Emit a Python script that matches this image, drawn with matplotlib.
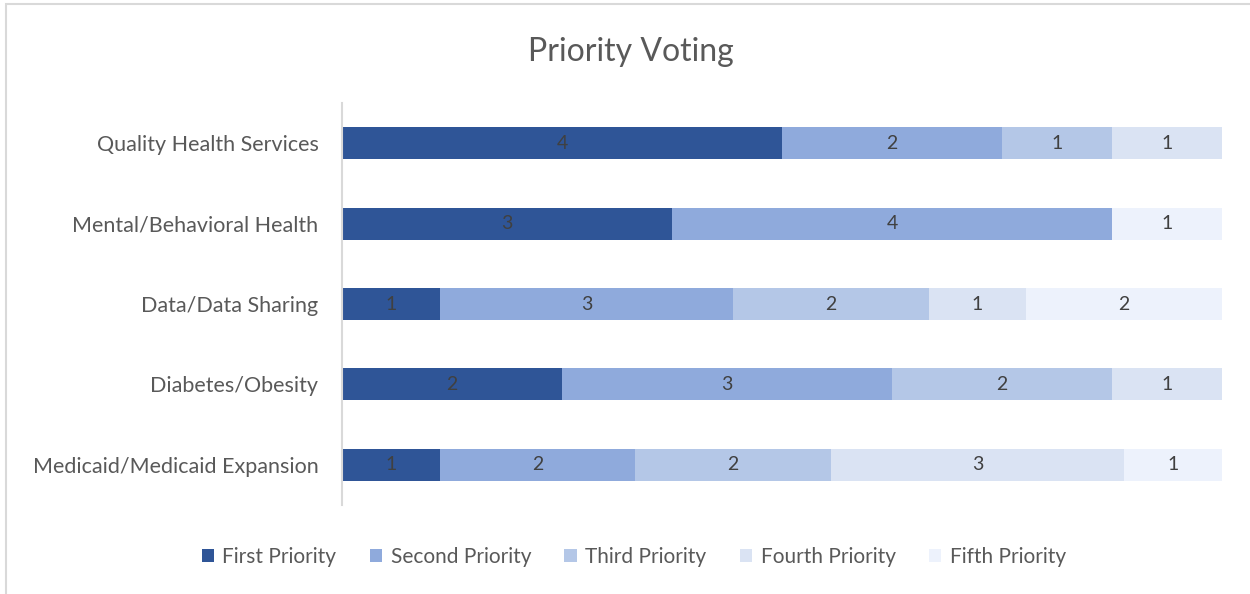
import matplotlib.pyplot as plt
from matplotlib.patches import Rectangle
import numpy as np

plt.rcParams['font.family'] = ['Lato', 'DejaVu Sans']

# Votos por tema y nivel de prioridad
temas = ['Quality Health Services', 'Mental/Behavioral Health', 'Data/Data Sharing',
         'Diabetes/Obesity', 'Medicaid/Medicaid Expansion']
prioridades = ['First Priority', 'Second Priority', 'Third Priority',
               'Fourth Priority', 'Fifth Priority']
primera = [4, 3, 1, 2, 1]
segunda = [2, 4, 3, 3, 2]
tercera = [1, 0, 2, 2, 2]
cuarta = [1, 0, 1, 1, 3]
quinta = [0, 1, 2, 0, 1]

colores = ['#2F5597', '#8FAADC', '#B4C7E7', '#DAE3F3', '#EDF2FC']
texto = '#595959'

votos = np.array([primera, segunda, tercera, cuarta, quinta], dtype=float)
totales = votos.sum(axis=0)
porc = votos / totales * 100

fig = plt.figure(figsize=(12.5, 5.94), dpi=100)
ax = fig.add_axes([0.2736, 0.1498, 0.704, 0.6768])

y = np.arange(len(temas))
izq = np.zeros(len(temas))
for i in range(len(prioridades)):
    ax.barh(y, porc[i], left=izq, height=0.4, color=colores[i], label=prioridades[i])
    for j in range(len(temas)):
        if votos[i, j] > 0:
            ax.text(izq[j] + porc[i, j] / 2, y[j], str(int(votos[i, j])),
                    ha='center', va='center', fontsize=14, color='#404040')
    izq += porc[i]

ax.set_xlim(0, 100)
ax.set_ylim(len(temas) - 0.5, -0.5)
ax.set_yticks(y)
ax.set_yticklabels(temas, fontsize=15.5, color=texto)
ax.set_xticks([])
ax.tick_params(axis='y', length=0, pad=17)
for s in ['top', 'right', 'bottom']:
    ax.spines[s].set_visible(False)
ax.spines['left'].set_color('#D9D9D9')
ax.spines['left'].set_linewidth(1.5)

fig.text(0.505, 0.913, 'Priority Voting', ha='center', va='center',
         fontsize=23, color=texto)

fig.legend(loc='center', bbox_to_anchor=(0.507, 0.062), ncol=5, frameon=False,
           handlelength=0.6, handleheight=0.6, handletextpad=0.4,
           columnspacing=1.6, prop={'size': 15}, labelcolor=texto)

# marco exterior del grafico
fig.patches.append(Rectangle((0.005, -0.05), 1.1, 1.043, transform=fig.transFigure,
                             fill=False, edgecolor='#D9D9D9', linewidth=1.5))

fig.savefig('out.png', dpi=100)
